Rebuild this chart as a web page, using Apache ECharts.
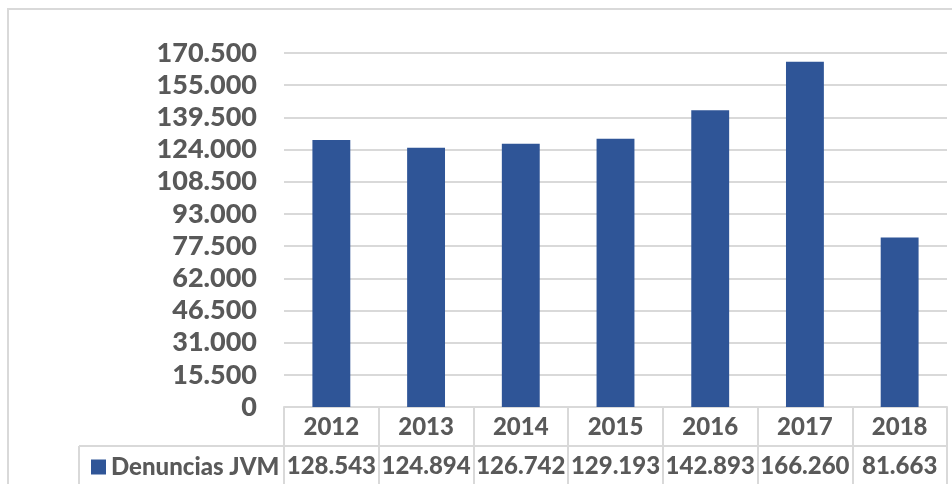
<!DOCTYPE html>
<html>
<head>
<meta charset="utf-8">
<script src="https://cdn.jsdelivr.net/npm/echarts@6/dist/echarts.min.js"></script>
<style>
  html, body { margin: 0; padding: 0; background: #fff; }
  #chart { width: 952px; height: 484px; }
</style>
</head>
<body>
<div id="chart"></div>
<script>
// datos
const years = ['2012', '2013', '2014', '2015', '2016', '2017', '2018']
const denuncias = [128543, 124894, 126742, 129193, 142893, 166260, 81663]
const seriesName = 'Denuncias JVM'
const yMax = 170500
const yStep = 15500

const grey = '#595959'
const lineCol = '#d9d9d9'
const font = 'Lato'
const weight = 900

// 128543 -> 128.543
const fmt = v => String(v).replace(/\B(?=(\d{3})+(?!\d))/g, '.')

const chart = echarts.init(document.getElementById('chart'))

const options = {
  animation: false,
  textStyle: { fontFamily: font, fontWeight: weight, color: grey },
  grid: { left: 284, right: 5, top: 53, bottom: 77 },
  legend: {
    data: [seriesName],
    left: 86, top: 450,
    icon: 'rect', itemWidth: 15, itemHeight: 15, itemGap: 6,
    textStyle: { fontSize: 24, fontWeight: weight, color: grey, fontFamily: font }
  },
  xAxis: [
    {
      type: 'category',
      data: years,
      axisLine: { lineStyle: { color: lineCol, width: 2 } },
      axisTick: { show: true, interval: 0, length: 77, lineStyle: { color: lineCol, width: 2 } },
      axisLabel: { interval: 0, margin: 8, fontSize: 24, fontWeight: weight, color: grey, fontFamily: font }
    },
    {
      type: 'category',
      data: years,
      position: 'bottom',
      offset: 39,
      axisLine: { show: true, lineStyle: { color: lineCol, width: 2 } },
      axisTick: { show: false },
      axisLabel: {
        interval: 0, margin: 8, fontSize: 24, fontWeight: weight, color: grey, fontFamily: font,
        formatter: (v, i) => fmt(denuncias[i])
      }
    }
  ],
  yAxis: {
    type: 'value',
    min: 0, max: yMax, interval: yStep,
    axisLine: { show: false },
    axisTick: { show: false },
    splitLine: { lineStyle: { color: lineCol, width: 2 } },
    axisLabel: { margin: 27, fontSize: 27, fontWeight: weight, color: grey, fontFamily: font, formatter: v => fmt(v) }
  },
  series: [
    {
      name: seriesName,
      type: 'bar',
      data: denuncias,
      barWidth: '40%',
      itemStyle: { color: '#2f5597' }
    }
  ],
  graphic: [
    // borde del gráfico
    { type: 'rect', shape: { x: 8, y: 9, width: 1000, height: 600 },
      style: { fill: 'none', stroke: lineCol, lineWidth: 2 }, silent: true },
    // línea de la fila de datos hasta la celda de la leyenda
    { type: 'line', shape: { x1: 79, y1: 446, x2: 284, y2: 446 },
      style: { stroke: lineCol, lineWidth: 2 }, silent: true },
    { type: 'line', shape: { x1: 79, y1: 446, x2: 79, y2: 490 },
      style: { stroke: lineCol, lineWidth: 2 }, silent: true }
  ]
}

chart.setOption(options)
</script>
</body>
</html>
